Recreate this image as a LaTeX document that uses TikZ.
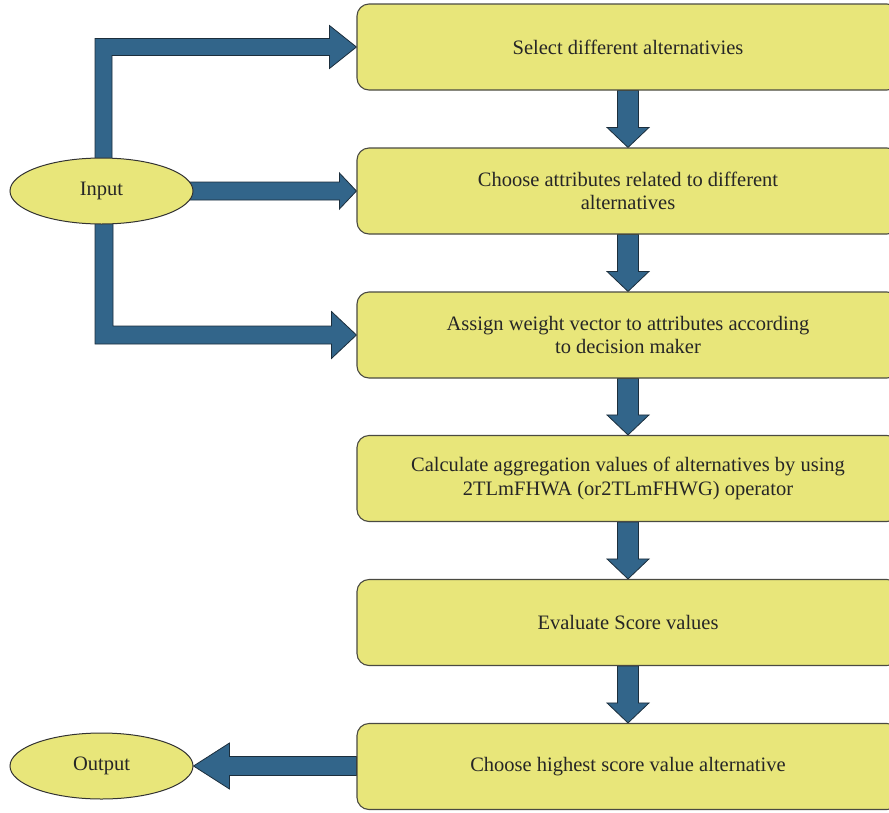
\documentclass[tikz,border=0pt]{standalone}
\usepackage{fontspec}
\setmainfont{Liberation Serif}
\usetikzlibrary{calc,shapes.geometric,backgrounds}
\definecolor{boxfill}{HTML}{E8E67A}
\definecolor{boxline}{HTML}{4A4A42}
\definecolor{arrfill}{HTML}{32658A}
\definecolor{arrline}{HTML}{1C2E3C}
\tikzset{
  procbox/.style={draw=boxline, line width=1.1pt, fill=boxfill, rounded corners=12pt,
    minimum width=542pt, minimum height=86pt, inner sep=0pt, align=center,
    font=\fontsize{20.5}{23.5}\selectfont, text=black!85},
  termnode/.style={ellipse, draw=black!80, line width=1pt, fill=boxfill,
    minimum width=183pt, minimum height=66pt, inner sep=0pt,
    font=\fontsize{20.5}{23.5}\selectfont, text=black!85},
  barrow/.style={fill=arrfill, draw=arrline, line width=0.8pt, line join=miter}
}
\begin{document}
\begin{tikzpicture}[x=1pt,y=-1pt]
\useasboundingbox (0,0) rectangle (889,812);
\node[procbox] (b1) at (628,47)    {Select different alternativies};
\node[procbox] (b2) at (628,191)   {Choose attributes related to different\\alternatives};
\node[procbox] (b3) at (628,335)   {Assign weight vector to attributes according\\to decision maker};
\node[procbox] (b4) at (628,478.5) {Calculate aggregation values of alternatives by using\\2TLmFHWA (or2TLmFHWG) operator};
\node[procbox] (b5) at (628,622.5) {Evaluate Score values};
\node[procbox] (b6) at (628,766.5) {Choose highest score value alternative};
\node[termnode] (inp) at (101.5,191) {Input};
\node[termnode] (out) at (101.5,766) {Output};
\begin{scope}[on background layer]
% vertical arrows between boxes
\foreach \a/\b in {b1/b2,b2/b3,b3/b4,b4/b5,b5/b6}{
  \draw[barrow] let \p1=(\a.south), \p2=(\b.north) in
    (\x1-10.5pt,\y1) -- (\x1-10.5pt,\y2+20pt) -- (\x1-21pt,\y2+20pt) -- (\x1,\y2)
    -- (\x1+21pt,\y2+20pt) -- (\x1+10.5pt,\y2+20pt) -- (\x1+10.5pt,\y1) -- cycle;
}
% input to box 1
\draw[barrow] let \p1=(inp.north), \p2=(b1.west) in
  (\x1-6.5pt,\y1-4pt) -- (\x1-6.5pt,\y2+8.5pt) -- (\x2-27pt,\y2+8.5pt) -- (\x2-27pt,\y2+21.5pt)
  -- (\p2) -- (\x2-27pt,\y2-21.5pt) -- (\x2-27pt,\y2-8.5pt) -- (\x1+10.5pt,\y2-8.5pt)
  -- (\x1+10.5pt,\y1-4pt) -- cycle;
% input to box 2
\draw[barrow] let \p1=(inp.east), \p2=(b2.west) in
  (\x1-4pt,\y2+9pt) -- (\x2-17pt,\y2+9pt) -- (\x2-17pt,\y2+18pt) -- (\p2)
  -- (\x2-17pt,\y2-18pt) -- (\x2-17pt,\y2-9pt) -- (\x1-4pt,\y2-9pt) -- cycle;
% input to box 3
\draw[barrow] let \p1=(inp.south), \p2=(b3.west) in
  (\x1-6.5pt,\y1+4pt) -- (\x1-6.5pt,\y2-9pt) -- (\x2-25pt,\y2-9pt) -- (\x2-25pt,\y2-23.5pt)
  -- (\p2) -- (\x2-25pt,\y2+23.5pt) -- (\x2-25pt,\y2+9pt) -- (\x1+11.5pt,\y2+9pt)
  -- (\x1+11.5pt,\y1+4pt) -- cycle;
% box 6 to output
\draw[barrow] let \p1=(b6.west), \p2=(out.east) in
  (\x1,\y2+9.5pt) -- (\x2+36pt,\y2+9.5pt) -- (\x2+36pt,\y2+23pt) -- (\p2)
  -- (\x2+36pt,\y2-23pt) -- (\x2+36pt,\y2-9.5pt) -- (\x1,\y2-9.5pt) -- cycle;
\end{scope}
\end{tikzpicture}
\end{document}
